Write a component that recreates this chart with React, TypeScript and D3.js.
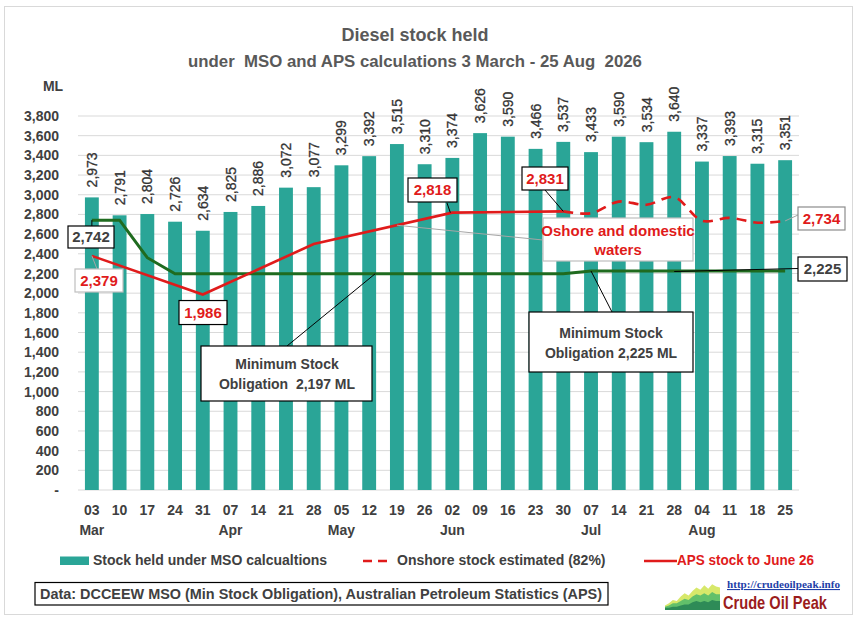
import { area, curveCatmullRom, curveLinear, line, scaleBand, scaleLinear } from "d3";

const weeks = ["03", "10", "17", "24", "31", "07", "14", "21", "28", "05", "12", "19", "26", "02", "09", "16", "23", "30", "07", "14", "21", "28", "04", "11", "18", "25"];
const monthLabels = ["Mar", "", "", "", "", "Apr", "", "", "", "May", "", "", "", "Jun", "", "", "", "", "Jul", "", "", "", "Aug", "", "", ""];

const stockMso = [2973, 2791, 2804, 2726, 2634, 2825, 2886, 3072, 3077, 3299, 3392, 3515, 3310, 3374, 3626, 3590, 3466, 3537, 3433, 3590, 3534, 3640, 3337, 3393, 3315, 3351];
const minStock = [2742, 2742, 2360, 2197, 2197, 2197, 2197, 2197, 2197, 2197, 2197, 2197, 2197, 2197, 2197, 2197, 2197, 2197, 2225, 2225, 2225, 2225, 2225, 2225, 2225, 2225];
const apsStock = [2379, null, null, null, 1986, null, null, null, 2499, null, null, null, null, 2818, null, null, null, 2831, null, null, null, null, null, null, null, null];
const onshoreEst = [null, null, null, null, null, null, null, null, null, null, null, null, null, null, null, null, null, 2831, 2812, 2930, 2898, 2975, 2736, 2765, 2716, 2734];

const yTicks = [0, 200, 400, 600, 800, 1000, 1200, 1400, 1600, 1800, 2000, 2200, 2400, 2600, 2800, 3000, 3200, 3400, 3600, 3800];

// little mountain chart in the logo
const logoBack = [4, 6, 9, 8, 12, 15, 13, 17, 20, 18, 22, 19, 23, 21, 20];
const logoMid = [3, 4, 6, 6, 8, 10, 9, 12, 14, 13, 15, 13, 16, 14, 14];
const logoFront = [2, 2, 3, 3, 4, 5, 5, 7, 8, 7, 8, 7, 9, 8, 8];

const TEAL = "#2aa597";
const GREEN = "#1f6b1f";
const RED = "#e01b1b";
const GREY = "#404040";
const FONT = "'Liberation Sans', Arial, sans-serif";

type Pt = { i: number; v: number };

function toPoints(values: (number | null)[]): Pt[] {
  return values.map((v, i) => ({ i, v })).filter((d): d is Pt => d.v !== null);
}

export default function App() {
  const x = scaleBand<number>()
    .domain(weeks.map((_, i) => i))
    .range([78, 799])
    .paddingInner(0.5)
    .paddingOuter(0.25);
  const y = scaleLinear().domain([0, 3800]).range([490, 116]);
  const cx = (i: number) => (x(i) ?? 0) + x.bandwidth() / 2;

  const linePath = (pts: Pt[], curve = curveLinear) =>
    line<Pt>()
      .x((d) => cx(d.i))
      .y((d) => y(d.v))
      .curve(curve)(pts) ?? "";

  const minPts = toPoints(minStock);
  const apsPts = toPoints(apsStock);
  const onPts = toPoints(onshoreEst);

  // anchors for callouts
  const pMin0 = { x: cx(0), y: y(minStock[0]) };
  const pAps0 = { x: cx(0), y: y(apsStock[0] as number) };
  const pAps4 = { x: cx(4), y: y(apsStock[4] as number) };
  const pAps13 = { x: cx(13), y: y(apsStock[13] as number) };
  const pAps17 = { x: cx(17), y: y(apsStock[17] as number) };
  const pOn25 = { x: cx(25), y: y(onshoreEst[25] as number) };
  const pMin25 = { x: cx(25), y: y(minStock[25]) };
  const pMin12 = { x: cx(10) + 6, y: y(minStock[10]) };
  const pMin18 = { x: cx(18), y: y(minStock[18]) };
  const pAps11 = { x: cx(11), y: y(2690) };

  const logoX = scaleLinear().domain([0, logoBack.length - 1]).range([665, 720]);
  const logoY = scaleLinear().domain([0, 24]).range([610, 583]);
  const logoArea = (vals: number[]) =>
    area<number>()
      .x((_, i) => logoX(i))
      .y0(610)
      .y1((v) => logoY(v))
      .curve(curveLinear)(vals) ?? "";

  const box = (
    bx: number,
    by: number,
    w: number,
    h: number,
    label: string,
    color: string,
    border: string
  ) => (
    <g>
      <rect x={bx} y={by} width={w} height={h} fill="#fff" stroke={border} strokeWidth={1.2} />
      <text x={bx + w / 2} y={by + h / 2} dy="0.36em" textAnchor="middle" fontSize={15} fontWeight="bold" fill={color}>
        {label}
      </text>
    </g>
  );

  return (
    <svg
      width={862}
      height={623}
      viewBox="0 0 862 623"
      style={{ position: "absolute", left: 0, top: 0, background: "#fff" }}
      fontFamily={FONT}
    >
      <rect x={4.5} y={6.5} width={848} height={608} fill="#fff" stroke="#d9d9d9" />

      <text x={415} y={41} textAnchor="middle" fontSize={18} fontWeight="bold" fill="#595959">
        Diesel stock held
      </text>
      <text x={415} y={67} textAnchor="middle" fontSize={16.8} fontWeight="bold" fill="#595959" xmlSpace="preserve">
        {"under  MSO and APS calculations 3 March - 25 Aug  2026"}
      </text>

      <text x={53} y={91} textAnchor="middle" fontSize={14} fontWeight="bold" fill={GREY}>
        ML
      </text>

      {yTicks.map((t) => (
        <g key={t}>
          <line x1={78} x2={799} y1={y(t)} y2={y(t)} stroke="#d9d9d9" strokeWidth={1} />
          <text x={59} y={y(t)} dy="0.36em" textAnchor="end" fontSize={14} fontWeight="bold" fill={GREY}>
            {t === 0 ? "-" : t.toLocaleString("en-US")}
          </text>
        </g>
      ))}

      {stockMso.map((v, i) => (
        <g key={i}>
          <rect x={x(i)} y={y(v)} width={x.bandwidth()} height={y(0) - y(v)} fill={TEAL} />
          <text
            transform={`translate(${cx(i)},${y(v) - 10}) rotate(-90)`}
            dy="0.36em"
            fontSize={14}
            fill="#333"
            stroke="#333"
            strokeWidth={0.3}
          >
            {v.toLocaleString("en-US")}
          </text>
        </g>
      ))}

      {weeks.map((w, i) => (
        <g key={i}>
          <text x={cx(i)} y={510} dy="0.36em" textAnchor="middle" fontSize={14} fontWeight="bold" fill={GREY}>
            {w}
          </text>
          {monthLabels[i] && (
            <text x={cx(i)} y={530} dy="0.36em" textAnchor="middle" fontSize={14} fontWeight="bold" fill={GREY}>
              {monthLabels[i]}
            </text>
          )}
        </g>
      ))}

      <path d={linePath(minPts)} fill="none" stroke={GREEN} strokeWidth={3} />
      <path d={linePath(apsPts)} fill="none" stroke={RED} strokeWidth={2.6} />
      <path
        d={linePath(onPts, curveCatmullRom.alpha(0.5))}
        fill="none"
        stroke={RED}
        strokeWidth={2.6}
        strokeDasharray="10,7"
      />

      {/* callout leaders */}
      <line x1={pMin0.x} y1={pMin0.y} x2={pMin0.x} y2={226} stroke="#000" strokeWidth={1} />
      <line x1={pAps0.x} y1={pAps0.y} x2={97} y2={269} stroke="#a6a6a6" strokeWidth={1} />
      <line x1={pAps13.x - 2} y1={pAps13.y} x2={447} y2={203} stroke="#000" strokeWidth={1} />
      <line x1={pAps17.x} y1={pAps17.y} x2={545} y2={190} stroke="#000" strokeWidth={1} />
      <line x1={pAps11.x} y1={pAps11.y} x2={543} y2={240} stroke="#a6a6a6" strokeWidth={1} />
      <line x1={pOn25.x} y1={pOn25.y} x2={798} y2={215} stroke="#a6a6a6" strokeWidth={1} />
      <line x1={cx(21)} y1={pMin25.y + 0.5} x2={798} y2={268.5} stroke="#000" strokeWidth={1} />
      <line x1={pMin12.x} y1={pMin12.y} x2={287} y2={346} stroke="#000" strokeWidth={1} />
      <line x1={pMin18.x} y1={pMin18.y} x2={612} y2={312} stroke="#000" strokeWidth={1} />

      {box(68, 226, 46, 22, "2,742", GREY, "#000")}
      {box(75, 269, 48, 23, "2,379", RED, "#bfbfbf")}
      {box(179, pAps4.y + 6, 48, 24, "1,986", RED, "#000")}
      {box(408, 178, 49, 24, "2,818", RED, "#000")}
      {box(522, 167, 46, 23, "2,831", RED, "#000")}
      {box(798, 207, 47, 23, "2,734", RED, "#8c8c8c")}
      {box(798, 257, 49, 24, "2,225", GREY, "#000")}

      <rect x={543} y={218} width={150} height={43} fill="#fff" stroke="#bfbfbf" strokeWidth={1.2} />
      <text x={618} y={231} dy="0.36em" textAnchor="middle" fontSize={15} fontWeight="bold" fill={RED}>
        Oshore and domestic
      </text>
      <text x={618} y={250} dy="0.36em" textAnchor="middle" fontSize={15} fontWeight="bold" fill={RED}>
        waters
      </text>

      <rect x={201} y={346} width={171} height={55} fill="#fff" stroke="#000" strokeWidth={1.2} />
      <text x={287} y={364} dy="0.36em" textAnchor="middle" fontSize={14} fontWeight="bold" fill={GREY}>
        Minimum Stock
      </text>
      <text x={287} y={384} dy="0.36em" textAnchor="middle" fontSize={14} fontWeight="bold" fill={GREY} xmlSpace="preserve">
        {"Obligation  2,197 ML"}
      </text>

      <rect x={529} y={312} width={164} height={60} fill="#fff" stroke="#000" strokeWidth={1.2} />
      <text x={611} y={333} dy="0.36em" textAnchor="middle" fontSize={14} fontWeight="bold" fill={GREY}>
        Minimum Stock
      </text>
      <text x={611} y={353} dy="0.36em" textAnchor="middle" fontSize={14} fontWeight="bold" fill={GREY}>
        Obligation 2,225 ML
      </text>

      {/* legend */}
      <rect x={60} y={556.5} width={29} height={8.5} fill={TEAL} />
      <text x={93} y={560} dy="0.36em" fontSize={14} fontWeight="bold" fill={GREY}>
        Stock held under MSO calcualtions
      </text>
      <line x1={363} x2={393} y1={561} y2={561} stroke={RED} strokeWidth={2.5} strokeDasharray="9,6" />
      <text x={397} y={560} dy="0.36em" fontSize={14} fontWeight="bold" fill={GREY}>
        Onshore stock estimated (82%)
      </text>
      <line x1={644} x2={677} y1={561} y2={561} stroke={RED} strokeWidth={2.5} />
      <text x={677} y={560} dy="0.36em" fontSize={14} fontWeight="bold" fill={RED} textLength={137} lengthAdjust="spacingAndGlyphs">
        APS stock to June 26
      </text>

      <rect x={35} y={582.5} width={573} height={22.5} fill="#fff" stroke="#000" strokeWidth={1.2} />
      <text x={40} y={594} dy="0.36em" fontSize={14} fontWeight="bold" fill={GREY} textLength={562} lengthAdjust="spacingAndGlyphs">
        Data: DCCEEW MSO (Min Stock Obligation), Australian Petroleum Statistics (APS)
      </text>

      {/* logo */}
      <path d={logoArea(logoBack)} fill="#d7e86a" />
      <path d={logoArea(logoMid)} fill="#62c06a" />
      <path d={logoArea(logoFront)} fill="#2e8b57" />
      <text x={727} y={588} fontSize={11} fontWeight="bold" fill="#1f3fa8" fontFamily="'Liberation Serif', serif" textDecoration="underline" textLength={113} lengthAdjust="spacingAndGlyphs">
        http://crudeoilpeak.info
      </text>
      <text x={723} y={602} dy="0.36em" fontSize={19} fontWeight="bold" fill="#9b1c1c" textLength={104} lengthAdjust="spacingAndGlyphs">
        Crude Oil Peak
      </text>
    </svg>
  );
}
